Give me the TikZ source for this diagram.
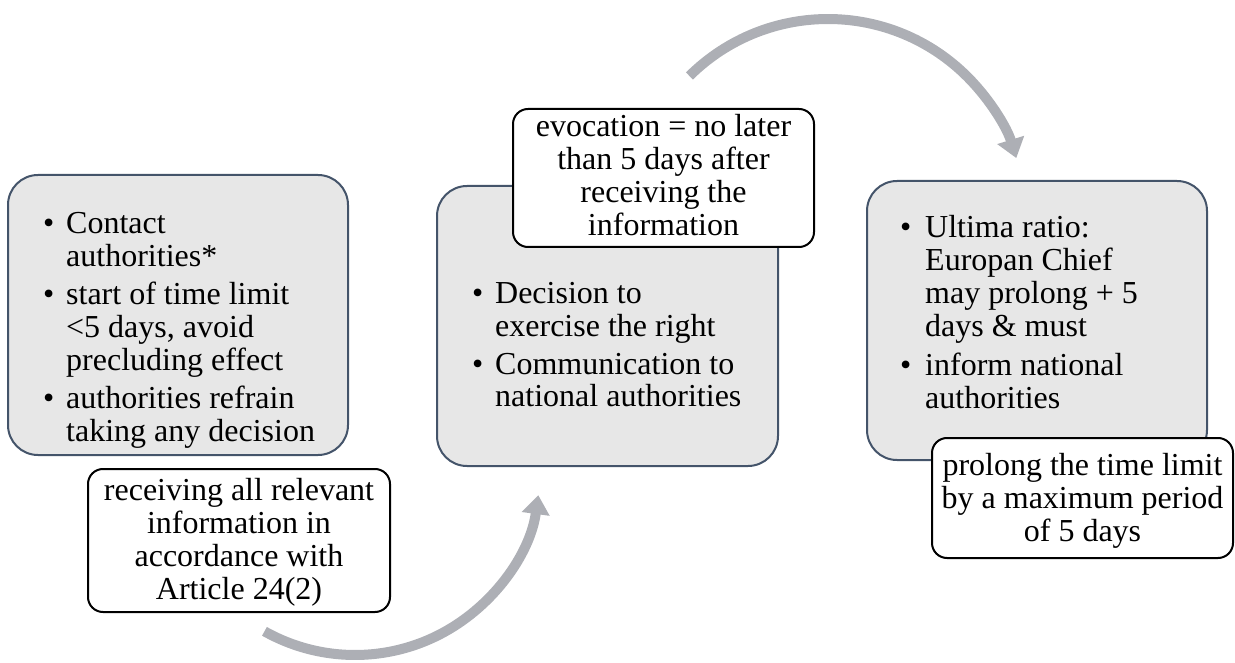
\documentclass[tikz,border=0pt]{standalone}
\usepackage{fontspec}
\setmainfont{Liberation Serif}
\usetikzlibrary{arrows.meta}
\definecolor{boxfill}{RGB}{231,231,231}
\definecolor{boxline}{RGB}{68,84,106}
\definecolor{arrowgray}{RGB}{173,175,181}
\newcommand\mybul[1]{\makebox[#1][l]{\textbullet}}
\begin{document}
\begin{tikzpicture}[x=1pt,y=-1pt,
  stepbox/.style={draw=boxline, line width=2pt, fill=boxfill, rounded corners=30pt, inner sep=0pt},
  calloutbox/.style={draw=black, line width=2pt, fill=white, rounded corners=15pt, inner sep=0pt},
  txt/.style={inner sep=0pt, font=\fontsize{32}{33}\selectfont},
  bigarrow/.style={draw=arrowgray, line width=10pt, -{Triangle[width=27pt,length=19pt]}}
]
\useasboundingbox (0,0) rectangle (1235,663);
% arrows
\coordinate (a1c) at (355,470);
\coordinate (a2c) at (828,216);
\draw[bigarrow] (a1c) ++(119.3:185) arc[start angle=119.3, end angle=7.8, radius=185];
\draw[bigarrow] (a2c) ++(225.3:197) arc[start angle=225.3, end angle=342.9, radius=197];
% step boxes
\node[stepbox, minimum width=340pt, minimum height=280pt] (b1) at (178,315) {};
\node[stepbox, minimum width=341pt, minimum height=280pt] (b2) at (607.5,326) {};
\node[stepbox, minimum width=340pt, minimum height=279pt] (b3) at (1037,320.5) {};
% box texts
\node[txt, anchor=base west] (t1) at (43,234) {\begin{tabular}[t]{@{}l@{}l@{}}
\mybul{23pt} & Contact\\
 & authorities*\\[5pt]
\mybul{23pt} & start of time limit\\
 & <5 days, avoid\\
 & precluding effect\\[5pt]
\mybul{23pt} & authorities refrain\\
 & taking any decision
\end{tabular}};
\node[txt, anchor=base west] (t2) at (472,303) {\begin{tabular}[t]{@{}l@{}l@{}}
\mybul{23pt} & Decision to\\
 & exercise the right\\[5pt]
\mybul{23pt} & Communication to\\
 & national authorities
\end{tabular}};
\node[txt, anchor=base west] (t3) at (900,238) {\begin{tabular}[t]{@{}l@{}l@{}}
\mybul{25pt} & Ultima ratio:\\
 & Europan Chief\\
 & may prolong + 5\\
 & days \& must\\[6pt]
\mybul{25pt} & inform national\\
 & authorities
\end{tabular}};
% callouts
\node[calloutbox, minimum width=302pt, minimum height=143pt] (c1) at (239,540.5) {};
\node[calloutbox, minimum width=301pt, minimum height=138pt] (c2) at (663.5,178) {};
\node[calloutbox, minimum width=301pt, minimum height=120pt] (c3) at (1082.5,498) {};
\node[txt, anchor=base] (ct1) at (239,500) {\begin{tabular}[t]{@{}c@{}}
receiving all relevant\\ information in\\ accordance with\\ Article 24(2)
\end{tabular}};
\node[txt, anchor=base] (ct2) at (663.5,137) {\begin{tabular}[t]{@{}c@{}}
evocation = no later\\ than 5 days after\\ receiving the\\ information
\end{tabular}};
\node[txt, anchor=base] (ct3) at (1082.5,475) {\begin{tabular}[t]{@{}c@{}}
prolong the time limit\\ by a maximum period\\ of 5 days
\end{tabular}};
\end{tikzpicture}
\end{document}
